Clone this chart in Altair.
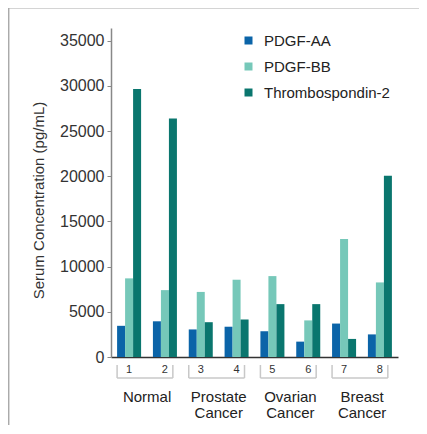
import altair as alt
import pandas as pd

samples = ["1", "2", "3", "4", "5", "6", "7", "8"]
series = ["PDGF-AA", "PDGF-BB", "Thrombospondin-2"]
pdgf_aa = [3450, 3950, 3050, 3350, 2850, 1700, 3700, 2500]
pdgf_bb = [8700, 7400, 7200, 8550, 8950, 4050, 13050, 8250]
tsp2 = [29650, 26400, 3850, 4150, 5850, 5850, 2000, 20050]
groups = ["Normal", "Prostate\nCancer", "Ovarian\nCancer", "Breast\nCancer"]
group_left = ["1", "3", "5", "7"]
group_right = ["2", "4", "6", "8"]
colors = ["#0B64A8", "#76C8B9", "#0A766E"]
y_ticks = [0, 5000, 10000, 15000, 20000, 25000, 30000, 35000]

rows = []
for name, vals in zip(series, [pdgf_aa, pdgf_bb, tsp2]):
    for s, v in zip(samples, vals):
        rows.append({"sample": s, "series": name, "value": v})
df = pd.DataFrame(rows)
gdf = pd.DataFrame({"group": groups, "left": group_left, "right": group_right})
frame_df = pd.DataFrame({"k": [0]})

FONT = "Liberation Sans"
xscale = alt.Scale(domain=samples, paddingInner=0.33, paddingOuter=0.17)

bars = alt.Chart(df).mark_bar().encode(
    x=alt.X("sample:N", scale=xscale, sort=samples,
            axis=alt.Axis(title=None, ticks=False, labelAngle=0, labelFontSize=11,
                          labelFont=FONT, labelColor="#333", labelPadding=6,
                          domainColor="#333", domainWidth=1.5)),
    xOffset=alt.XOffset("series:N", sort=series),
    y=alt.Y("value:Q", scale=alt.Scale(domain=[0, 36400], nice=False),
            axis=alt.Axis(title="Serum Concentration (pg/mL)", values=y_ticks, grid=False,
                          format="d",
                          labelFontSize=16, labelFont=FONT, labelColor="#333",
                          tickSize=4, tickColor="#888", domainColor="#888", domainWidth=1.5,
                          labelPadding=3, titleFont=FONT, titleFontSize=15,
                          titleFontWeight="normal", titleColor="#333",
                          titleX=-73, titleY=172, titleAngle=-90, titleAlign="center",
                          titleBaseline="middle")),
    color=alt.Color("series:N", sort=series,
                    scale=alt.Scale(domain=series, range=colors),
                    legend=alt.Legend(title=None, orient="none", legendX=130, legendY=5,
                                      symbolType="square", symbolSize=64, symbolStrokeWidth=0,
                                      labelFont=FONT, labelFontSize=15, labelColor="#222",
                                      rowPadding=10, labelOffset=8, padding=0)),
)

bracket_h = alt.Chart(gdf).mark_rule(color="#c8c8c8", strokeWidth=1.5).encode(
    x=alt.X("left:N", scale=xscale, bandPosition=0),
    x2=alt.X2("right:N", bandPosition=0.83),
    y=alt.value(350),
)
bracket_l = alt.Chart(gdf).mark_rule(color="#c8c8c8", strokeWidth=1.5).encode(
    x=alt.X("left:N", scale=xscale, bandPosition=0),
    y=alt.value(337), y2=alt.value(350),
)
bracket_r = alt.Chart(gdf).mark_rule(color="#c8c8c8", strokeWidth=1.5).encode(
    x=alt.X("right:N", scale=xscale, bandPosition=0.83),
    y=alt.value(337), y2=alt.value(350),
)
labels = alt.Chart(gdf).mark_text(
    font=FONT, fontSize=15, color="#222", lineBreak="\n", lineHeight=16,
    baseline="alphabetic", align="center", dx=6
).encode(
    x=alt.X("left:N", scale=xscale, bandPosition=1),
    y=alt.value(373.5),
    text="group:N",
)
frame = alt.Chart(frame_df).mark_rect(fill=None, stroke="#aaaaaa", strokeWidth=1.5).encode(
    x=alt.value(-102.3), x2=alt.value(400), y=alt.value(-20.3), y2=alt.value(500),
)

chart = alt.layer(frame, bars, bracket_h, bracket_l, bracket_r, labels).properties(
    width=287, height=329,
    padding={"left": 103, "top": 20, "right": 21, "bottom": 68},
    autosize="none",
).configure_view(stroke=None)

chart.save("out.html", embed_options={"renderer": "svg", "actions": False})
